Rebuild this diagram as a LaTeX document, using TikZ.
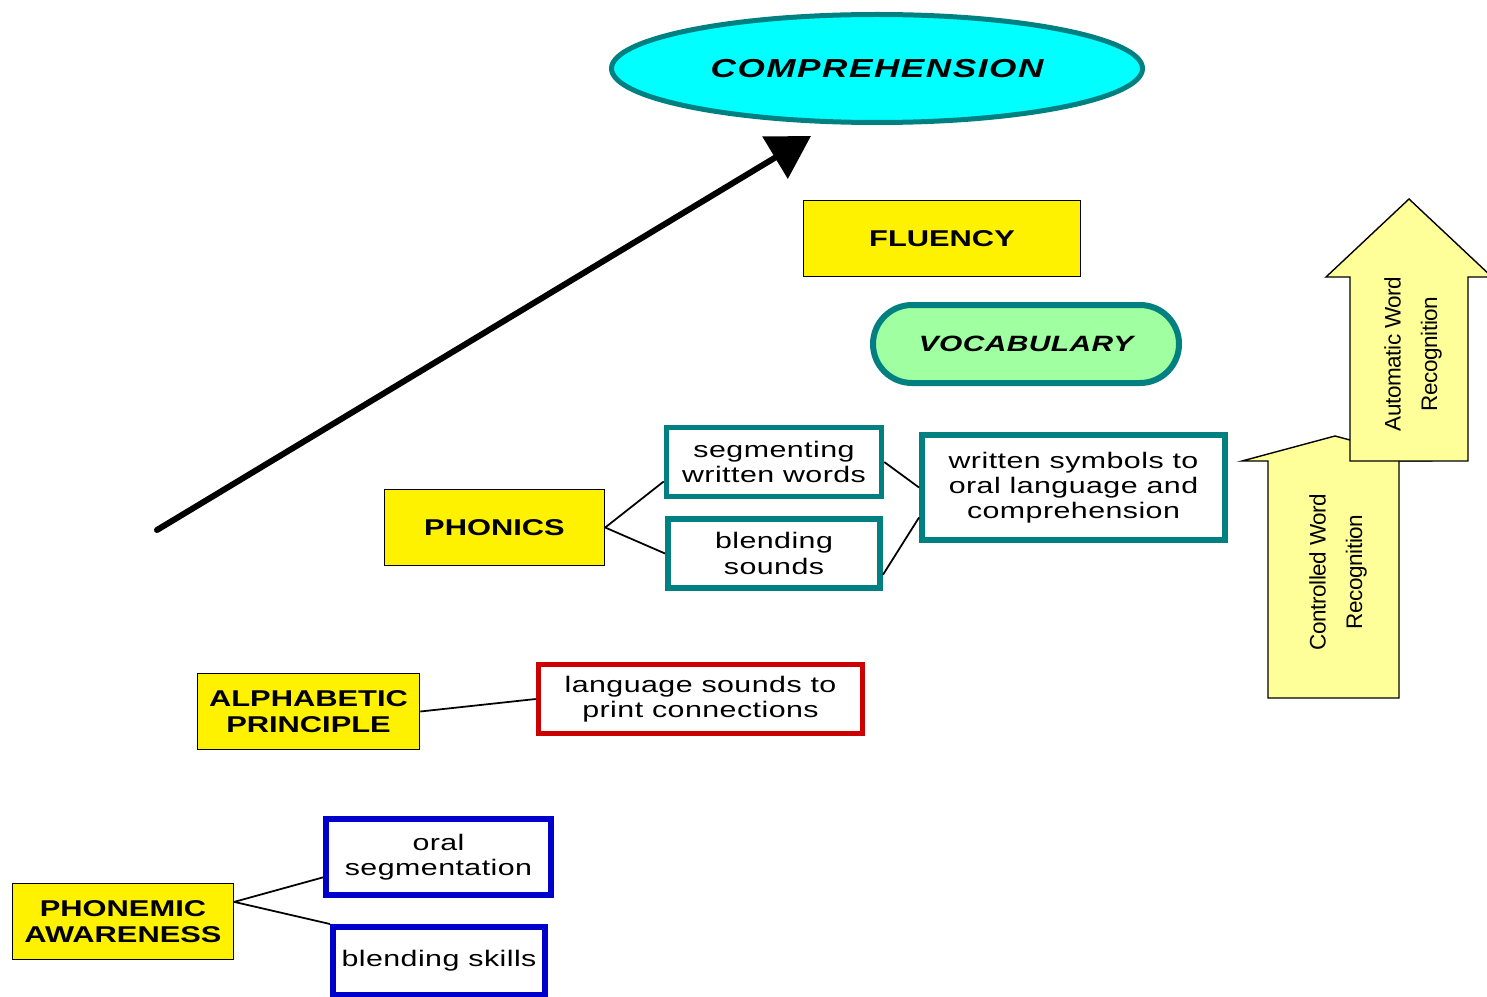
\documentclass[tikz,border=0pt]{standalone}
\usepackage{fontspec}
\setmainfont{Liberation Sans}
\newfontfamily\widefont[FakeStretch=1.35]{Liberation Sans}
\usetikzlibrary{shapes.geometric, arrows.meta}
\definecolor{ringteal}{HTML}{008080}
\definecolor{skycyan}{HTML}{00FFFF}
\definecolor{mintgreen}{HTML}{A0FFA0}
\definecolor{paleyellow}{HTML}{FFFF99}
\definecolor{boxred}{HTML}{CC0000}
\definecolor{boxblue}{HTML}{0000CC}
\tikzset{
	>={Triangle[length=0.42cm, width=0.48cm]}, % big filled head for the main arrow
	concept/.style={draw=black, line width=0.4pt, fill=yellow, minimum width=2.2cm, minimum height=0.76cm, align=center, font=\widefont\fontsize{6.5}{7.2}\selectfont\bfseries}, % the yellow stage boxes
	detail/.style={draw=#1, line width=0.055cm, fill=white, align=center, inner sep=0pt, font=\widefont\fontsize{6.4}{7.2}\selectfont\addfontfeature{LetterSpace=2}}, % the framed skill boxes
	link/.style={line width=0.5pt}, % thin connectors between boxes
	blockarrow/.style={draw=black, line width=0.4pt, fill=paleyellow}, % the two upward arrows on the right
	arrowtext/.style={rotate=90, align=center, font=\fontsize{6.4}{10.4}\selectfont\addfontfeature{LetterSpace=-2}}, % sideways text in the arrows
}
\begin{document}
\begin{tikzpicture}
	\useasboundingbox (0,0) rectangle (14.87,-9.96);

	% top of the ladder
	\node[ellipse, draw=ringteal, line width=0.05cm, fill=skycyan, minimum width=5.31cm, minimum height=1.08cm, inner sep=0pt, font=\widefont\fontsize{7.4}{9}\selectfont\bfseries\itshape\addfontfeature{LetterSpace=6}] (comp) at (8.77,-0.685) {COMPREHENSION};
	\node[concept, minimum width=2.77cm] (fluency) at (9.42,-2.385) {FLUENCY};
	\node[draw=ringteal, line width=0.06cm, fill=mintgreen, minimum width=3.06cm, minimum height=0.78cm, rounded corners=0.39cm, font=\widefont\fontsize{6.3}{7}\selectfont\bfseries\itshape\addfontfeature{LetterSpace=2}] (vocab) at (10.26,-3.44) {VOCABULARY};

	% phonics
	\node[concept] (phonics) at (4.945,-5.275) {PHONICS};
	\node[detail=ringteal, minimum width=2.15cm, minimum height=0.69cm] (segwords) at (7.74,-4.62) {segmenting\\written words};
	\node[detail=ringteal, line width=0.06cm, minimum width=2.12cm, minimum height=0.69cm] (blendsounds) at (7.74,-5.535) {blending\\sounds};
	\node[detail=ringteal, line width=0.06cm, minimum width=3.03cm, minimum height=1.05cm] (symbols) at (10.735,-4.875) {written symbols to\\oral language and\\comprehension};

	% alphabetic principle
	\node[concept] (alpha) at (3.085,-7.115) {ALPHABETIC\\PRINCIPLE};
	\node[detail=boxred, minimum width=3.24cm, minimum height=0.69cm] (soundprint) at (7.005,-6.99) {language sounds to\\print connections};

	% phonemic awareness
	\node[concept, minimum width=2.21cm] (phonemic) at (1.23,-9.215) {PHONEMIC\\AWARENESS};
	\node[detail=boxblue, line width=0.06cm, minimum width=2.25cm, minimum height=0.76cm] (oralseg) at (4.385,-8.57) {oral\\segmentation};
	\node[detail=boxblue, line width=0.06cm, minimum width=2.12cm, minimum height=0.68cm] (blendskills) at (4.39,-9.61) {blending skills};

	\draw[link] (phonics.east) edge (segwords.190)
		(phonics.east) edge (blendsounds.west)
		(segwords.east) edge (symbols.west)
		(blendsounds.-11) edge (symbols.191)
		(alpha.east) edge (soundprint.west)
		(phonemic.10) edge (oralseg.190)
		(phonemic.10) edge (blendskills.north west);

	% the long arrow up towards comprehension
	\coordinate (rise) at (1.57,-5.30);
	\coordinate (top) at (8.11,-1.36);
	\draw[->, line width=0.06cm, line cap=round] (rise) -- (top);

	% word recognition arrows
	\draw[blockarrow] (12.68,-6.98) -- (12.68,-4.61) -- (12.42,-4.61) -- (13.35,-4.36) -- (14.28,-4.61) -- (13.99,-4.61) -- (13.99,-6.98) -- cycle;
	\draw[blockarrow] (13.50,-4.61) -- (13.50,-2.77) -- (13.26,-2.77) -- (14.09,-1.99) -- (14.92,-2.77) -- (14.68,-2.77) -- (14.68,-4.61) -- cycle;
	\node[arrowtext] (ctrltext) at (13.38,-5.72) {Controlled Word\\Recognition};
	\node[arrowtext] (autotext) at (14.13,-3.54) {Automatic Word\\Recognition};
\end{tikzpicture}
\end{document}
